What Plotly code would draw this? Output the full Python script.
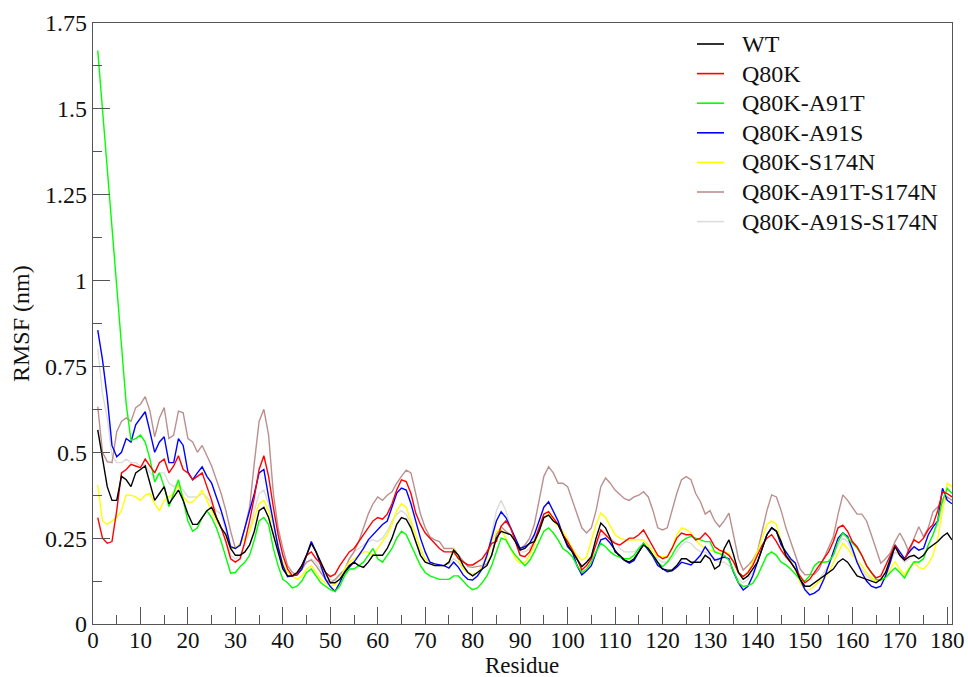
import plotly.graph_objects as go

residues = list(range(1, 182))

wt = [0.565, 0.48, 0.40, 0.36, 0.36, 0.43, 0.42, 0.40, 0.44, 0.45,
      0.46, 0.41, 0.36, 0.38, 0.40, 0.35, 0.37, 0.39, 0.36, 0.32,
      0.29, 0.29, 0.31, 0.33, 0.34, 0.31, 0.28, 0.26, 0.22, 0.20,
      0.20, 0.21, 0.23, 0.27, 0.33, 0.34, 0.31, 0.26, 0.21, 0.16,
      0.14, 0.14, 0.15, 0.17, 0.20, 0.235, 0.21, 0.18, 0.15, 0.12,
      0.12, 0.13, 0.15, 0.17, 0.18, 0.17, 0.165, 0.18, 0.20, 0.20,
      0.20, 0.22, 0.25, 0.29, 0.31, 0.305, 0.28, 0.24, 0.20, 0.18,
      0.175, 0.17, 0.17, 0.17, 0.18, 0.215, 0.20, 0.17, 0.15, 0.14,
      0.15, 0.16, 0.17, 0.20, 0.25, 0.27, 0.265, 0.26, 0.24, 0.215,
      0.22, 0.235, 0.24, 0.27, 0.31, 0.317, 0.30, 0.29, 0.26, 0.23,
      0.21, 0.19, 0.167, 0.18, 0.196, 0.25, 0.294, 0.28, 0.25, 0.21,
      0.20, 0.186, 0.18, 0.19, 0.21, 0.23, 0.22, 0.20, 0.18, 0.16,
      0.157, 0.157, 0.17, 0.19, 0.19, 0.18, 0.18, 0.18, 0.20, 0.19,
      0.16, 0.17, 0.22, 0.245, 0.20, 0.15, 0.13, 0.14, 0.16, 0.18,
      0.22, 0.26, 0.28, 0.27, 0.24, 0.20, 0.18, 0.16, 0.13, 0.11,
      0.11, 0.12, 0.13, 0.14, 0.15, 0.16, 0.18, 0.19, 0.18, 0.16,
      0.14, 0.135, 0.13, 0.123, 0.12, 0.13, 0.15, 0.19, 0.225, 0.20,
      0.186, 0.196, 0.20, 0.19, 0.20, 0.22, 0.23, 0.24, 0.255, 0.265,
      0.245]

q80k = [0.31, 0.25, 0.235, 0.24, 0.33, 0.44, 0.45, 0.465, 0.46, 0.455,
        0.48, 0.46, 0.44, 0.47, 0.48, 0.44, 0.46, 0.49, 0.45, 0.44,
        0.42, 0.43, 0.44, 0.40, 0.36, 0.31, 0.28, 0.24, 0.19, 0.18,
        0.19, 0.24, 0.30, 0.37, 0.45, 0.49, 0.43, 0.34, 0.26, 0.20,
        0.16, 0.14, 0.145, 0.17, 0.20, 0.21, 0.19, 0.175, 0.15, 0.138,
        0.145, 0.17, 0.19, 0.21, 0.22, 0.24, 0.26, 0.283, 0.30, 0.31,
        0.305, 0.32, 0.35, 0.39, 0.42, 0.415, 0.38, 0.323, 0.29, 0.265,
        0.25, 0.235, 0.22, 0.21, 0.21, 0.21, 0.19, 0.18, 0.172, 0.172,
        0.18, 0.19, 0.21, 0.235, 0.24, 0.285, 0.30, 0.28, 0.24, 0.20,
        0.196, 0.21, 0.24, 0.28, 0.32, 0.327, 0.31, 0.29, 0.26, 0.24,
        0.215, 0.19, 0.157, 0.17, 0.19, 0.23, 0.274, 0.26, 0.245, 0.235,
        0.23, 0.24, 0.25, 0.25, 0.26, 0.274, 0.25, 0.225, 0.20, 0.19,
        0.195, 0.22, 0.25, 0.265, 0.26, 0.26, 0.245, 0.25, 0.265, 0.25,
        0.225, 0.215, 0.21, 0.20, 0.18, 0.15, 0.138, 0.15, 0.17, 0.20,
        0.23, 0.25, 0.26, 0.24, 0.215, 0.196, 0.18, 0.16, 0.14, 0.12,
        0.13, 0.15, 0.167, 0.19, 0.21, 0.24, 0.28, 0.288, 0.27, 0.24,
        0.225, 0.20, 0.17, 0.15, 0.134, 0.14, 0.17, 0.20, 0.23, 0.20,
        0.186, 0.22, 0.245, 0.236, 0.25, 0.275, 0.29, 0.33, 0.385, 0.38,
        0.37]

a91t = [1.67, 1.50, 1.33, 1.15, 0.97, 0.80, 0.64, 0.535, 0.54, 0.55,
        0.53, 0.48, 0.414, 0.44, 0.40, 0.342, 0.38, 0.42, 0.36, 0.30,
        0.27, 0.28, 0.31, 0.33, 0.31, 0.28, 0.24, 0.19, 0.148, 0.15,
        0.167, 0.18, 0.20, 0.245, 0.30, 0.31, 0.29, 0.22, 0.17, 0.13,
        0.12, 0.105, 0.11, 0.125, 0.15, 0.16, 0.14, 0.12, 0.11, 0.10,
        0.095, 0.11, 0.14, 0.16, 0.16, 0.17, 0.18, 0.20, 0.22, 0.19,
        0.18, 0.20, 0.22, 0.25, 0.27, 0.26, 0.23, 0.20, 0.17, 0.15,
        0.14, 0.135, 0.13, 0.13, 0.13, 0.14, 0.14, 0.125, 0.11, 0.10,
        0.105, 0.12, 0.14, 0.17, 0.21, 0.25, 0.245, 0.22, 0.20, 0.186,
        0.17, 0.185, 0.21, 0.24, 0.27, 0.28, 0.265, 0.245, 0.22, 0.21,
        0.196, 0.17, 0.15, 0.16, 0.18, 0.21, 0.235, 0.225, 0.21, 0.20,
        0.196, 0.19, 0.19, 0.20, 0.22, 0.235, 0.22, 0.20, 0.18, 0.167,
        0.18, 0.20, 0.225, 0.24, 0.25, 0.255, 0.25, 0.245, 0.24, 0.24,
        0.21, 0.205, 0.20, 0.186, 0.15, 0.12, 0.109, 0.112, 0.118, 0.14,
        0.17, 0.20, 0.21, 0.20, 0.18, 0.172, 0.16, 0.145, 0.13, 0.125,
        0.14, 0.17, 0.181, 0.18, 0.182, 0.20, 0.24, 0.265, 0.25, 0.235,
        0.221, 0.20, 0.17, 0.15, 0.13, 0.128, 0.135, 0.15, 0.163, 0.15,
        0.134, 0.16, 0.181, 0.18, 0.19, 0.23, 0.26, 0.30, 0.36, 0.395,
        0.38]

a91s = [0.856, 0.77, 0.66, 0.52, 0.487, 0.50, 0.54, 0.53, 0.58, 0.60,
        0.618, 0.56, 0.50, 0.53, 0.545, 0.47, 0.47, 0.54, 0.52, 0.443,
        0.42, 0.44, 0.458, 0.43, 0.41, 0.37, 0.33, 0.283, 0.225, 0.22,
        0.23, 0.28, 0.33, 0.38, 0.44, 0.45, 0.37, 0.30, 0.225, 0.17,
        0.138, 0.14, 0.143, 0.16, 0.20, 0.24, 0.21, 0.17, 0.13, 0.109,
        0.095, 0.12, 0.15, 0.165, 0.18, 0.20, 0.22, 0.245, 0.26, 0.274,
        0.29, 0.30, 0.34, 0.381, 0.396, 0.39, 0.35, 0.30, 0.25, 0.21,
        0.18, 0.175, 0.172, 0.17, 0.163, 0.18, 0.165, 0.143, 0.13, 0.128,
        0.14, 0.16, 0.20, 0.25, 0.30, 0.327, 0.31, 0.28, 0.25, 0.22,
        0.225, 0.235, 0.26, 0.30, 0.34, 0.356, 0.33, 0.30, 0.26, 0.225,
        0.21, 0.17, 0.143, 0.155, 0.17, 0.21, 0.245, 0.25, 0.235, 0.215,
        0.196, 0.185, 0.177, 0.185, 0.21, 0.235, 0.215, 0.196, 0.17, 0.16,
        0.152, 0.155, 0.165, 0.18, 0.175, 0.172, 0.185, 0.20, 0.225, 0.205,
        0.186, 0.19, 0.195, 0.19, 0.15, 0.12, 0.099, 0.11, 0.14, 0.18,
        0.22, 0.26, 0.28, 0.27, 0.23, 0.21, 0.19, 0.177, 0.13, 0.10,
        0.085, 0.09, 0.10, 0.13, 0.17, 0.21, 0.25, 0.265, 0.255, 0.22,
        0.18, 0.15, 0.125, 0.11, 0.105, 0.11, 0.14, 0.18, 0.23, 0.21,
        0.19, 0.21, 0.225, 0.215, 0.22, 0.26, 0.283, 0.30, 0.395, 0.36,
        0.35]

s174n = [0.405, 0.30, 0.29, 0.30, 0.31, 0.33, 0.376, 0.375, 0.37, 0.36,
         0.375, 0.38, 0.35, 0.33, 0.36, 0.37, 0.38, 0.405, 0.37, 0.355,
         0.355, 0.37, 0.39, 0.36, 0.33, 0.30, 0.28, 0.26, 0.22, 0.22,
         0.235, 0.25, 0.27, 0.31, 0.35, 0.36, 0.33, 0.29, 0.22, 0.18,
         0.15, 0.14, 0.13, 0.14, 0.16, 0.17, 0.15, 0.13, 0.12, 0.11,
         0.115, 0.13, 0.16, 0.18, 0.19, 0.20, 0.21, 0.21, 0.20, 0.22,
         0.24, 0.26, 0.29, 0.33, 0.35, 0.34, 0.30, 0.26, 0.22, 0.19,
         0.18, 0.175, 0.17, 0.17, 0.18, 0.22, 0.19, 0.16, 0.15, 0.145,
         0.15, 0.165, 0.19, 0.24, 0.27, 0.274, 0.25, 0.22, 0.19, 0.177,
         0.18, 0.20, 0.23, 0.27, 0.31, 0.32, 0.30, 0.285, 0.27, 0.245,
         0.22, 0.20, 0.186, 0.195, 0.24, 0.29, 0.323, 0.31, 0.285, 0.26,
         0.25, 0.245, 0.245, 0.245, 0.245, 0.245, 0.23, 0.21, 0.196, 0.195,
         0.196, 0.22, 0.26, 0.28, 0.275, 0.265, 0.245, 0.23, 0.22, 0.215,
         0.21, 0.21, 0.21, 0.205, 0.18, 0.15, 0.138, 0.15, 0.18, 0.21,
         0.25, 0.29, 0.30, 0.29, 0.24, 0.20, 0.186, 0.16, 0.12, 0.099,
         0.10, 0.11, 0.124, 0.13, 0.15, 0.18, 0.21, 0.235, 0.22, 0.20,
         0.186, 0.17, 0.15, 0.135, 0.124, 0.125, 0.14, 0.16, 0.181, 0.16,
         0.143, 0.165, 0.18, 0.165, 0.16, 0.175, 0.20, 0.25, 0.33, 0.41,
         0.40]

a91t_s174n = [0.633, 0.50, 0.473, 0.47, 0.56, 0.59, 0.60, 0.59, 0.63, 0.64,
              0.662, 0.62, 0.545, 0.60, 0.63, 0.54, 0.55, 0.62, 0.615, 0.54,
              0.53, 0.50, 0.52, 0.49, 0.46, 0.42, 0.38, 0.33, 0.27, 0.22,
              0.23, 0.28, 0.34, 0.47, 0.59, 0.625, 0.55, 0.38, 0.28, 0.22,
              0.17, 0.15, 0.143, 0.16, 0.18, 0.186, 0.17, 0.15, 0.13, 0.12,
              0.13, 0.145, 0.157, 0.19, 0.21, 0.24, 0.28, 0.32, 0.35, 0.37,
              0.36, 0.375, 0.385, 0.41, 0.43, 0.448, 0.44, 0.38, 0.32, 0.28,
              0.254, 0.245, 0.24, 0.22, 0.22, 0.22, 0.20, 0.185, 0.167, 0.165,
              0.167, 0.17, 0.175, 0.20, 0.26, 0.283, 0.27, 0.26, 0.24, 0.22,
              0.23, 0.25, 0.29, 0.36, 0.43, 0.458, 0.44, 0.41, 0.41, 0.40,
              0.36, 0.32, 0.28, 0.265, 0.28, 0.33, 0.40, 0.425, 0.41, 0.39,
              0.376, 0.365, 0.36, 0.37, 0.375, 0.385, 0.37, 0.33, 0.28, 0.274,
              0.28, 0.33, 0.38, 0.42, 0.429, 0.42, 0.38, 0.356, 0.32, 0.33,
              0.30, 0.283, 0.30, 0.323, 0.26, 0.19, 0.157, 0.17, 0.186, 0.21,
              0.27, 0.33, 0.376, 0.37, 0.33, 0.28, 0.24, 0.20, 0.16, 0.143,
              0.145, 0.145, 0.16, 0.19, 0.22, 0.254, 0.32, 0.376, 0.36, 0.34,
              0.32, 0.32, 0.30, 0.26, 0.22, 0.177, 0.19, 0.207, 0.24, 0.265,
              0.24, 0.207, 0.25, 0.283, 0.254, 0.28, 0.327, 0.34, 0.355, 0.37,
              0.36]

a91s_s174n = [0.80, 0.67, 0.60, 0.49, 0.47, 0.47, 0.48, 0.47, 0.47, 0.46,
              0.465, 0.44, 0.43, 0.44, 0.44, 0.41, 0.40, 0.41, 0.39, 0.37,
              0.37, 0.37, 0.38, 0.37, 0.35, 0.33, 0.32, 0.27, 0.20, 0.19,
              0.20, 0.23, 0.27, 0.33, 0.38, 0.39, 0.35, 0.29, 0.23, 0.17,
              0.15, 0.14, 0.145, 0.16, 0.18, 0.19, 0.18, 0.16, 0.14, 0.13,
              0.125, 0.14, 0.16, 0.19, 0.21, 0.22, 0.23, 0.24, 0.245, 0.24,
              0.25, 0.27, 0.30, 0.32, 0.33, 0.32, 0.29, 0.24, 0.21, 0.19,
              0.18, 0.175, 0.17, 0.17, 0.175, 0.19, 0.18, 0.16, 0.15, 0.14,
              0.15, 0.17, 0.20, 0.26, 0.33, 0.36, 0.33, 0.28, 0.24, 0.21,
              0.21, 0.22, 0.25, 0.28, 0.31, 0.32, 0.31, 0.29, 0.26, 0.23,
              0.21, 0.19, 0.17, 0.18, 0.20, 0.23, 0.26, 0.26, 0.25, 0.24,
              0.22, 0.21, 0.21, 0.21, 0.22, 0.23, 0.22, 0.20, 0.19, 0.18,
              0.18, 0.19, 0.21, 0.23, 0.24, 0.235, 0.22, 0.21, 0.21, 0.20,
              0.19, 0.18, 0.18, 0.17, 0.15, 0.13, 0.12, 0.13, 0.15, 0.18,
              0.22, 0.26, 0.28, 0.27, 0.23, 0.20, 0.18, 0.16, 0.13, 0.11,
              0.11, 0.12, 0.13, 0.15, 0.17, 0.20, 0.23, 0.25, 0.24, 0.21,
              0.18, 0.16, 0.14, 0.13, 0.125, 0.13, 0.15, 0.18, 0.21, 0.20,
              0.18, 0.19, 0.20, 0.19, 0.20, 0.23, 0.26, 0.29, 0.34, 0.38,
              0.37]

series_names = ["WT", "Q80K", "Q80K-A91T", "Q80K-A91S", "Q80K-S174N",
                "Q80K-A91T-S174N", "Q80K-A91S-S174N"]
series_values = [wt, q80k, a91t, a91s, s174n, a91t_s174n, a91s_s174n]
series_colors = ["#000000", "#ff0000", "#00ff00", "#0000ff", "#ffff00",
                 "#bc8f8f", "#dcdcdc"]

x_ticks = list(range(0, 181, 10))
y_ticks = [0, 0.25, 0.5, 0.75, 1, 1.25, 1.5, 1.75]
y_tick_labels = ["0", "0.25", "0.5", "0.75", "1", "1.25", "1.5", "1.75"]
x_title = "Residue"
y_title = "RMSF (nm)"

FONT = "Liberation Serif, Times New Roman, serif"
AX = "#555555"
TXT = "#111111"

# plot area in pixels (used to place legend and axis titles)
W, H = 968, 677
ML, MR, MT, MB = 93, 16, 23, 53
PW, PH = W - ML - MR, H - MT - MB


def px_to_paper(px, py):
    return (px - ML) / PW, (H - MB - py) / PH


fig = go.Figure()
for i in reversed(range(len(series_names))):
    fig.add_trace(go.Scatter(
        x=residues, y=series_values[i], mode="lines", name=series_names[i],
        line=dict(color=series_colors[i], width=1.4), showlegend=False,
    ))

shapes = []
annotations = []
for i, (name, col) in enumerate(zip(series_names, series_colors)):
    row_y = 44 + 29.6 * i
    x0, y0 = px_to_paper(697, row_y)
    x1, _ = px_to_paper(724, row_y)
    xt, _ = px_to_paper(740, row_y)
    shapes.append(dict(type="line", xref="paper", yref="paper",
                       x0=x0, x1=x1, y0=y0, y1=y0,
                       line=dict(color=col, width=1.6)))
    annotations.append(dict(text=name, xref="paper", yref="paper", x=xt,
                            y=y0, xanchor="left", yanchor="middle",
                            showarrow=False,
                            font=dict(family=FONT, size=24, color=TXT)))

# axis titles
xtx, xty = px_to_paper(522, 665)
annotations.append(dict(text=x_title, xref="paper", yref="paper", x=xtx,
                        y=xty, xanchor="center", yanchor="middle",
                        showarrow=False,
                        font=dict(family=FONT, size=23, color=TXT)))
ytx, yty = px_to_paper(21, 324)
annotations.append(dict(text=y_title, xref="paper", yref="paper", x=ytx,
                        y=yty, xanchor="center", yanchor="middle",
                        textangle=-90, showarrow=False,
                        font=dict(family=FONT, size=24, color=TXT)))

fig.update_layout(
    width=W, height=H,
    margin=dict(l=ML, r=MR, t=MT, b=MB),
    paper_bgcolor="white", plot_bgcolor="white",
    font=dict(family=FONT, size=23, color=TXT),
    showlegend=False,
    shapes=shapes, annotations=annotations,
)
fig.update_xaxes(
    range=[0, 181], tickvals=x_ticks, ticks="inside", ticklen=17,
    tickwidth=1.2, tickcolor=AX, showline=True, linecolor=AX, linewidth=1.2,
    mirror=True, showgrid=False, zeroline=False, automargin=False,
    minor=dict(dtick=5, tick0=0, ticks="inside", ticklen=9, tickwidth=1.2,
               tickcolor=AX, showgrid=False),
    tickfont=dict(family=FONT, size=23, color=TXT), ticklabelstandoff=-5,
)
fig.update_yaxes(
    range=[0, 1.75], tickvals=y_ticks, ticktext=y_tick_labels, ticks="inside",
    ticklen=17, tickwidth=1.2, tickcolor=AX, showline=True, linecolor=AX,
    linewidth=1.2, mirror=True, showgrid=False, zeroline=False,
    automargin=False,
    minor=dict(dtick=0.125, tick0=0, ticks="inside", ticklen=9, tickwidth=1.2,
               tickcolor=AX, showgrid=False),
    tickfont=dict(family=FONT, size=24, color=TXT), ticklabelstandoff=0,
)

fig.write_html("out.html")
